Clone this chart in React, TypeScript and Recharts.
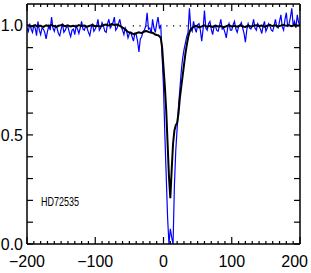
import { LineChart, Line, XAxis, YAxis, ReferenceLine } from 'recharts'

const velocity = [
  -200, -198, -196, -194, -192, -190, -188, -186, -184, -182,
  -180, -178, -176, -174, -172, -170, -168, -166, -164, -162,
  -160, -158, -156, -154, -152, -150, -148, -146, -144, -142,
  -140, -138, -136, -134, -132, -130, -128, -126, -124, -122,
  -120, -118, -116, -114, -112, -110, -108, -106, -104, -102,
  -100, -98, -96, -94, -92, -90, -88, -86, -84, -82,
  -80, -78, -76, -74, -72, -70, -68, -66, -64, -62,
  -60, -58, -56, -54, -52, -50, -48, -46, -44, -42,
  -40, -38, -36, -34, -32, -30, -28, -26, -24, -22,
  -20, -18, -16, -14, -12, -10, -8, -6, -4, -2,
  0, 2, 4, 6, 8, 10, 12, 14, 16, 18,
  20, 22, 24, 26, 28, 30, 32, 34, 36, 38,
  40, 42, 44, 46, 48, 50, 52, 54, 56, 58,
  60, 62, 64, 66, 68, 70, 72, 74, 76, 78,
  80, 82, 84, 86, 88, 90, 92, 94, 96, 98,
  100, 102, 104, 106, 108, 110, 112, 114, 116, 118,
  120, 122, 124, 126, 128, 130, 132, 134, 136, 138,
  140, 142, 144, 146, 148, 150, 152, 154, 156, 158,
  160, 162, 164, 166, 168, 170, 172, 174, 176, 178,
  180, 182, 184, 186, 188, 190, 192, 194, 196, 198,
  200,
]

// blue: single observation, noisy
const fluxBlue = [
  0.99, 0.975, 1.01, 0.985, 0.97, 1.0, 0.99, 0.955, 1.02, 0.98,
  0.96, 0.99, 0.985, 0.97, 0.94, 0.975, 1.0, 0.98, 1.04, 0.99,
  0.975, 1.0, 0.99, 0.965, 0.955, 0.985, 1.01, 0.97, 0.98, 0.995,
  0.995, 0.97, 0.95, 0.98, 0.985, 0.96, 1.0, 0.985, 0.965, 0.99,
  1.02, 0.985, 0.98, 1.0, 0.99, 0.97, 0.955, 0.99, 1.01, 0.975,
  0.985, 1.0, 1.03, 0.98, 0.99, 1.015, 1.0, 0.975, 0.97, 1.01,
  1.03, 0.99, 1.0, 1.015, 1.04, 0.98, 0.99, 1.01, 1.03, 0.995,
  0.98, 0.96, 0.99, 0.975, 0.945, 0.965, 0.97, 0.95, 0.93, 0.965,
  0.96, 0.93, 0.88, 0.94, 0.95, 0.975, 0.98, 1.0, 1.06, 0.985,
  0.99, 0.965, 1.03, 0.99, 0.97, 1.01, 1.04, 0.99, 1.0, 0.86,
  0.72, 0.5, 0.31, 0.12, 0.0, 0.07, 0.03, 0.0, 0.27, 0.43,
  0.53, 0.63, 0.71, 0.79, 0.85, 0.89, 0.92, 0.95, 0.97, 1.08,
  0.99, 0.975, 1.02, 0.99, 0.97, 1.005, 1.01, 0.98, 0.93, 0.985,
  1.07, 0.99, 0.98, 1.01, 1.02, 0.985, 0.96, 0.995, 1.0, 0.98,
  0.975, 1.0, 1.03, 0.985, 0.99, 0.97, 0.945, 0.99, 1.01, 0.98,
  0.98, 1.005, 1.02, 0.985, 0.97, 0.995, 1.0, 1.015, 0.99, 0.965,
  0.925, 0.98, 1.01, 0.99, 0.985, 1.0, 1.03, 0.99, 0.98, 1.01,
  1.0, 0.985, 0.965, 1.0, 1.02, 0.975, 0.99, 1.01, 1.0, 0.98,
  0.975, 1.0, 1.03, 0.995, 0.99, 1.02, 1.05, 0.995, 0.98, 1.03,
  1.06, 0.995, 1.01, 1.04, 1.08, 1.0, 1.02, 0.99, 1.05, 1.015,
  1.0,
]

// black: mean profile
const fluxBlack = [
  1.005, 1.002, 1.0, 0.997, 0.998, 1.001, 1.003, 0.999, 0.997, 1.0,
  1.0, 0.997, 0.995, 0.999, 1.002, 1.0, 0.998, 1.002, 1.004, 1.0,
  0.999, 0.997, 0.996, 1.0, 1.001, 1.003, 1.005, 1.0, 0.998, 1.0,
  1.002, 0.999, 0.997, 0.999, 1.0, 0.998, 0.996, 1.0, 1.003, 1.001,
  0.999, 1.0, 1.001, 0.998, 0.996, 0.998, 1.0, 1.002, 1.004, 1.0,
  0.998, 0.999, 1.0, 0.998, 0.997, 1.0, 1.003, 1.005, 1.006, 1.003,
  1.002, 1.005, 1.008, 1.006, 1.004, 1.005, 1.006, 1.003, 1.0, 0.996,
  0.992, 0.988, 0.983, 0.977, 0.972, 0.97, 0.968, 0.965, 0.962, 0.964,
  0.966, 0.968, 0.97, 0.968, 0.967, 0.97, 0.973, 0.976, 0.975, 0.972,
  0.97, 0.969, 0.968, 0.964, 0.96, 0.958, 0.957, 0.952, 0.945, 0.9,
  0.81, 0.72, 0.61, 0.46, 0.31, 0.21, 0.34, 0.46, 0.52, 0.545,
  0.555, 0.6, 0.67, 0.72, 0.77, 0.82, 0.87, 0.91, 0.945, 0.97,
  0.985, 0.99, 0.995, 0.998, 1.0, 0.997, 0.993, 0.995, 0.997, 1.0,
  1.002, 0.999, 0.996, 0.998, 1.0, 0.997, 0.995, 0.998, 1.001, 0.999,
  0.997, 0.998, 0.999, 0.996, 0.994, 0.996, 0.998, 1.001, 1.003, 1.0,
  0.997, 0.998, 1.0, 0.998, 0.996, 0.999, 1.002, 1.0, 0.998, 0.996,
  0.995, 0.998, 1.001, 0.999, 0.997, 0.998, 1.0, 1.002, 1.003, 1.0,
  0.998, 1.0, 1.001, 0.998, 0.996, 0.998, 1.0, 1.002, 1.004, 1.001,
  0.999, 1.001, 1.002, 0.999, 0.997, 0.999, 1.001, 1.003, 1.005, 1.002,
  1.0, 1.002, 1.003, 1.0, 0.998, 1.001, 1.004, 1.002, 1.001, 1.002,
  1.003,
]

const xTicks = [
  -200, -190, -180, -170, -160, -150, -140, -130, -120, -110, -100, -90, -80, -70, -60, -50, -40, -30, -20, -10,
  0, 10, 20, 30, 40, 50, 60, 70, 80, 90, 100, 110, 120, 130, 140, 150, 160, 170, 180, 190, 200,
]
const xLabels = [-200, -100, 0, 100, 200]
const yTicks = [0, 0.1, 0.2, 0.3, 0.4, 0.5, 0.6, 0.7, 0.8, 0.9, 1.0]
const yLabels = [0, 0.5, 1.0]

const data = velocity.map((v, i) => ({ v, blue: fluxBlue[i], black: fluxBlack[i] }))

const font = '"Liberation Sans", Arial, sans-serif'

const fmtX = (v: number) => (v < 0 ? '\u2212' + Math.abs(v) : String(v))

function BottomTick(props: any) {
  const { x, y, payload } = props
  const major = xLabels.includes(payload.value)
  // the last label is pushed in so it stays on the page
  const last = payload.value === 200
  return (
    <g>
      <line x1={x} x2={x} y1={y} y2={y - (major ? 7 : 3)} stroke="#000" strokeWidth={1.2} />
      {major && (
        <text x={last ? x + 8 : x} y={y + 12} dy="0.71em" textAnchor={last ? 'end' : 'middle'}
          fontSize={16} fontFamily={font} fill="#000">
          {fmtX(payload.value)}
        </text>
      )}
    </g>
  )
}

function TopTick(props: any) {
  const { x, y, payload } = props
  const major = xLabels.includes(payload.value)
  return <line x1={x} x2={x} y1={y} y2={y + (major ? 7 : 3)} stroke="#000" strokeWidth={1.2} />
}

function LeftTick(props: any) {
  const { x, y, payload } = props
  const major = yLabels.some(l => Math.abs(l - payload.value) < 1e-6)
  return (
    <g>
      <line x1={x} x2={x + 6} y1={y} y2={y} stroke="#000" strokeWidth={1.2} />
      {major && (
        <text x={x - 4} y={y} dy="0.355em" textAnchor="end" fontSize={16} fontFamily={font} fill="#000">
          {payload.value.toFixed(1)}
        </text>
      )}
    </g>
  )
}

function RightTick(props: any) {
  const { x, y } = props
  return <line x1={x} x2={x - 6} y1={y} y2={y} stroke="#000" strokeWidth={1.2} />
}

const axisLine = { stroke: '#000', strokeWidth: 1.5 }

export default function App() {
  return (
    <div style={{ position: 'absolute', left: 0, top: 0, background: '#fff' }}>
      <LineChart width={311} height={273} data={data} margin={{ top: 0, right: 0, bottom: 0, left: 0 }}>
        <XAxis dataKey="v" type="number" domain={[-200, 200]} ticks={xTicks} interval={0} height={29}
          tickSize={0} tickMargin={0} tickLine={false} axisLine={axisLine} tick={<BottomTick />} allowDataOverflow />
        <XAxis xAxisId="top" orientation="top" dataKey="v" type="number" domain={[-200, 200]} ticks={xTicks} interval={0} height={4}
          tickSize={0} tickMargin={0} tickLine={false} axisLine={axisLine} tick={<TopTick />} allowDataOverflow />
        <YAxis type="number" domain={[0, 1.1]} ticks={yTicks} interval={0} width={27}
          tickSize={0} tickMargin={0} tickLine={false} axisLine={axisLine} tick={<LeftTick />} allowDataOverflow />
        <YAxis yAxisId="right" orientation="right" type="number" domain={[0, 1.1]} ticks={yTicks} interval={0} width={11}
          tickSize={0} tickMargin={0} tickLine={false} axisLine={axisLine} tick={<RightTick />} allowDataOverflow />
        <ReferenceLine segment={[{ x: -45, y: 1 }, { x: 35, y: 1 }]} stroke="#000" strokeWidth={1.2} strokeDasharray="1.2 5.5" />
        <Line dataKey="blue" stroke="#0000ff" strokeWidth={1.2} dot={false} isAnimationActive={false} />
        <Line dataKey="black" stroke="#000" strokeWidth={2} dot={false} isAnimationActive={false} />
        <text x={41} y={201} dy="0.355em" fontSize={13} fontFamily={font} textLength={38} lengthAdjust="spacingAndGlyphs" fill="#000">
          HD72535
        </text>
      </LineChart>
    </div>
  )
}
